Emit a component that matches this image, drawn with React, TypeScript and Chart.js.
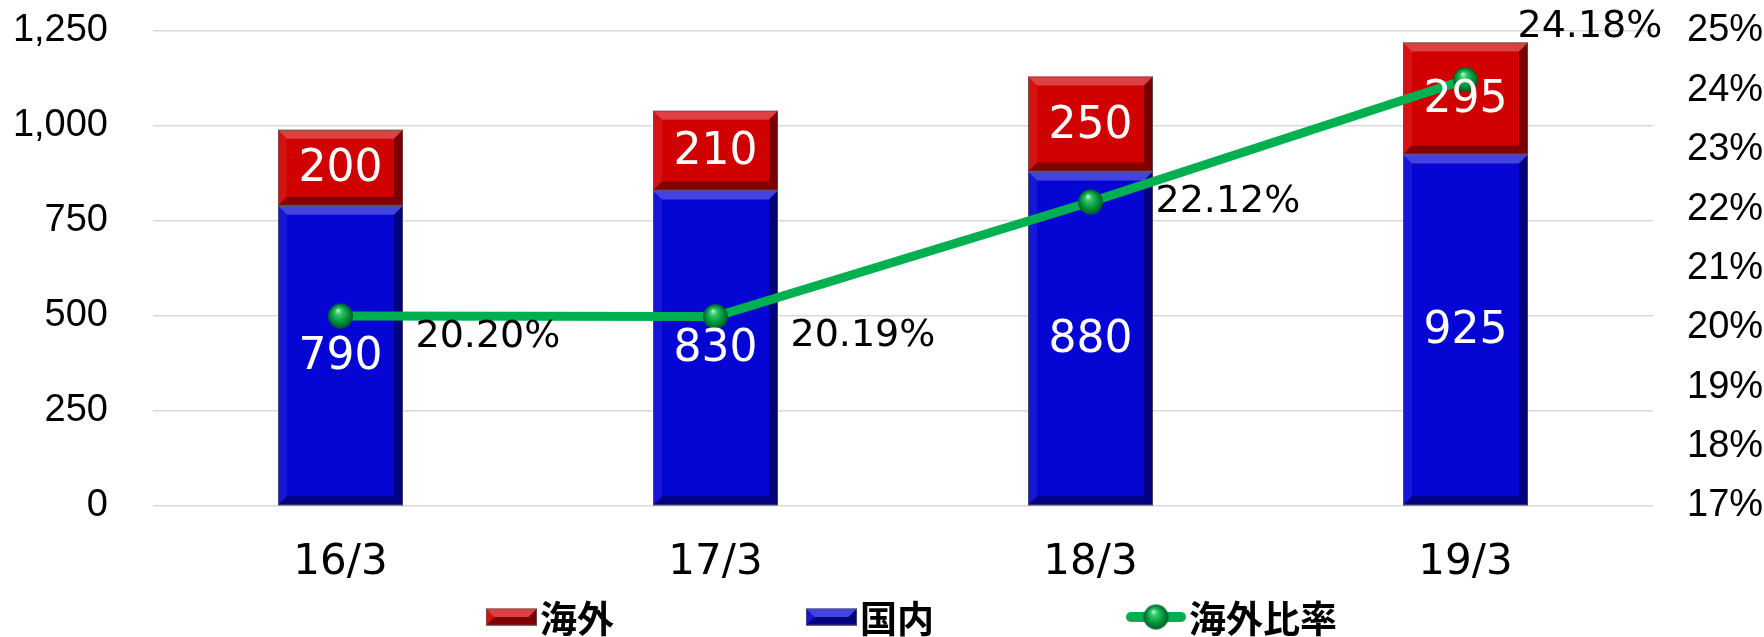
import React, { useEffect, useRef } from "react";
import { Chart, registerables } from "chart.js";

Chart.register(...registerables);

// ---- data ----
const categories = ["16/3", "17/3", "18/3", "19/3"];
const domestic = [790, 830, 880, 925];
const overseas = [200, 210, 250, 295];
const overseasRatio = [20.2, 20.19, 22.12, 24.18];
const ratioLabels = ["20.20%", "20.19%", "22.12%", "24.18%"];
const leftTicks = [0, 250, 500, 750, 1000, 1250];
const rightTicks = [17, 18, 19, 20, 21, 22, 23, 24, 25];
const seriesNames = ["海外", "国内", "海外比率"];

// ---- styles ----
const RED = "#d10000";
const BLUE = "#0505d4";
const GREEN = "#00b050";
const RATIO_LABEL_OFFSETS: [number, number][] = [
  [75, 21],
  [75, 20],
  [65, 0],
  [52, -53],
];
const TICK_FONT = { family: "'Liberation Sans', Arial, sans-serif", size: 38 };
const XLABEL_FONT = { family: "'DejaVu Sans', sans-serif", size: 42 };

function makeSphere(r: number) {
  const c = document.createElement("canvas");
  const s = Math.ceil(r * 2) + 2;
  c.width = s;
  c.height = s;
  const g = c.getContext("2d")!;
  const cx = s / 2,
    cy = s / 2;
  const grad = g.createRadialGradient(cx - r * 0.2, cy - r * 0.45, r * 0.05, cx, cy, r);
  grad.addColorStop(0, "#b5f3c8");
  grad.addColorStop(0.22, "#38c76a");
  grad.addColorStop(0.65, "#00963e");
  grad.addColorStop(1, "#005a24");
  g.fillStyle = grad;
  g.beginPath();
  g.arc(cx, cy, r, 0, Math.PI * 2);
  g.fill();
  return c;
}

function poly(ctx: CanvasRenderingContext2D, pts: number[][], fill: string) {
  ctx.beginPath();
  ctx.moveTo(pts[0][0], pts[0][1]);
  for (let i = 1; i < pts.length; i++) ctx.lineTo(pts[i][0], pts[i][1]);
  ctx.closePath();
  ctx.fillStyle = fill;
  ctx.fill();
}

function bevelRect(ctx: CanvasRenderingContext2D, x0: number, y0: number, x1: number, y1: number) {
  const b = Math.min(9, (x1 - x0) / 2, (y1 - y0) / 2);
  ctx.save();
  poly(ctx, [[x0, y0], [x1, y0], [x1 - b, y0 + b], [x0 + b, y0 + b]], "rgba(255,255,255,0.25)");
  poly(ctx, [[x0, y1], [x1, y1], [x1 - b, y1 - b], [x0 + b, y1 - b]], "rgba(0,0,0,0.38)");
  poly(ctx, [[x0, y0], [x0 + b, y0 + b], [x0 + b, y1 - b], [x0, y1]], "rgba(255,255,255,0.07)");
  poly(ctx, [[x1, y0], [x1 - b, y0 + b], [x1 - b, y1 - b], [x1, y1]], "rgba(0,0,0,0.42)");
  ctx.strokeStyle = "rgba(90,90,90,0.7)";
  ctx.lineWidth = 1;
  ctx.strokeRect(x0 + 0.5, y0 + 0.5, x1 - x0 - 1, y1 - y0 - 1);
  ctx.restore();
}

const bevelPlugin = {
  id: "bevel",
  afterDatasetDraw(chart: any, args: any) {
    const meta = args.meta;
    if (meta.type !== "bar") return;
    const ctx = chart.ctx;
    meta.data.forEach((el: any) => {
      const p = el.getProps(["x", "y", "base", "width"], true);
      const x0 = p.x - p.width / 2;
      const x1 = p.x + p.width / 2;
      const y0 = Math.min(p.y, p.base);
      const y1 = Math.max(p.y, p.base);
      bevelRect(ctx, x0, y0, x1, y1);
    });
  },
};

const labelsPlugin = {
  id: "valueLabels",
  afterDraw(chart: any) {
    const ctx = chart.ctx;
    ctx.save();
    ctx.textAlign = "center";
    ctx.textBaseline = "middle";
    ctx.fillStyle = "#ffffff";
    ctx.font = "44px 'DejaVu Sans', sans-serif";
    chart.data.datasets.forEach((ds: any, di: number) => {
      const meta = chart.getDatasetMeta(di);
      if (meta.type !== "bar") return;
      meta.data.forEach((el: any, i: number) => {
        const p = el.getProps(["x", "y", "base"], true);
        ctx.fillText(String(ds.data[i]), p.x, (p.y + p.base) / 2 + 2);
      });
    });
    const lineMeta = chart.getDatasetMeta(2);
    ctx.fillStyle = "#000000";
    ctx.textAlign = "left";
    ctx.font = "38px 'DejaVu Sans', sans-serif";
    lineMeta.data.forEach((el: any, i: number) => {
      const p = el.getProps(["x", "y"], true);
      const [dx, dy] = RATIO_LABEL_OFFSETS[i];
      ctx.fillText(ratioLabels[i], p.x + dx, p.y + dy);
    });
    ctx.restore();
  },
};

function makeLegendPlugin(sphere: HTMLCanvasElement) {
  return {
    id: "customLegend",
    afterDraw(chart: any) {
      const ctx = chart.ctx;
      const area = chart.chartArea;
      const cy = area.bottom + 111;
      let x = area.left + 333;
      ctx.save();
      ctx.font = "bold 37px 'Noto Sans CJK JP', sans-serif";
      ctx.textBaseline = "middle";
      ctx.textAlign = "left";
      const kinds = ["bar", "bar", "line"];
      const colors = [RED, BLUE, GREEN];
      seriesNames.forEach((name, i) => {
        if (kinds[i] === "bar") {
          const w = 51,
            h = 17;
          ctx.fillStyle = colors[i];
          ctx.fillRect(x, cy - h / 2, w, h);
          bevelRect(ctx, x, cy - h / 2, x + w, cy + h / 2);
          x += w + 3;
        } else {
          ctx.strokeStyle = GREEN;
          ctx.lineWidth = 10;
          ctx.lineCap = "round";
          ctx.beginPath();
          ctx.moveTo(x + 5, cy);
          ctx.lineTo(x + 55, cy);
          ctx.stroke();
          ctx.drawImage(sphere, x + 30 - sphere.width / 2, cy - sphere.height / 2);
          x += 63;
        }
        ctx.fillStyle = "#000000";
        ctx.fillText(name, x, cy + 2);
        x += ctx.measureText(name).width + 192;
      });
      ctx.restore();
    },
  };
}

export default function App() {
  const ref = useRef<HTMLCanvasElement>(null);
  useEffect(() => {
    document.body.style.margin = "0";
    const canvas = ref.current!;
    const sphere = makeSphere(12.5);
    const chart = new Chart(canvas, {
      type: "bar",
      data: {
        labels: categories,
        datasets: [
          {
            type: "bar",
            label: seriesNames[0],
            data: overseas,
            backgroundColor: RED,
            order: 2,
            yAxisID: "y",
            barPercentage: 1,
            categoryPercentage: 1 / 3,
            borderWidth: 0,
          },
          {
            type: "bar",
            label: seriesNames[1],
            data: domestic,
            backgroundColor: BLUE,
            order: 1,
            yAxisID: "y",
            barPercentage: 1,
            categoryPercentage: 1 / 3,
            borderWidth: 0,
          },
          {
            type: "line",
            label: seriesNames[2],
            data: overseasRatio,
            borderColor: GREEN,
            backgroundColor: GREEN,
            borderWidth: 9,
            pointStyle: sphere as any,
            pointRadius: 13,
            yAxisID: "y1",
            order: 0,
            tension: 0,
          },
        ] as any,
      },
      options: {
        animation: false,
        responsive: false,
        devicePixelRatio: 1,
        layout: { padding: { top: 31, left: 0, right: 0, bottom: 0 } },
        plugins: { legend: { display: false }, tooltip: { enabled: false } },
        scales: {
          x: {
            stacked: true,
            grid: { display: false, drawTicks: false },
            border: { display: false },
            ticks: { font: XLABEL_FONT, color: "#000", padding: 32 },
            afterFit: (s: any) => {
              s.height = 131;
            },
          },
          y: {
            stacked: true,
            min: leftTicks[0],
            max: leftTicks[leftTicks.length - 1],
            ticks: {
              stepSize: leftTicks[1] - leftTicks[0],
              callback: (v: any) => Number(v).toLocaleString("en-US"),
              font: TICK_FONT,
              color: "#000",
              padding: 45,
            },
            grid: { color: "#d9d9d9", lineWidth: 1.5, drawTicks: false },
            border: { display: false },
            afterFit: (s: any) => {
              s.width = 153;
              s.paddingTop = 0;
              s.paddingBottom = 0;
            },
          },
          y1: {
            position: "right",
            min: rightTicks[0],
            max: rightTicks[rightTicks.length - 1],
            ticks: {
              stepSize: rightTicks[1] - rightTicks[0],
              callback: (v: any) => v + "%",
              font: TICK_FONT,
              color: "#000",
              padding: 34,
            },
            grid: { display: false, drawTicks: false },
            border: { display: false },
            afterFit: (s: any) => {
              s.width = 111;
              s.paddingTop = 0;
              s.paddingBottom = 0;
            },
          },
        },
      } as any,
      plugins: [bevelPlugin, labelsPlugin, makeLegendPlugin(sphere)],
    });
    return () => chart.destroy();
  }, []);
  return <canvas ref={ref} width={1764} height={637} style={{ display: "block" }} />;
}
